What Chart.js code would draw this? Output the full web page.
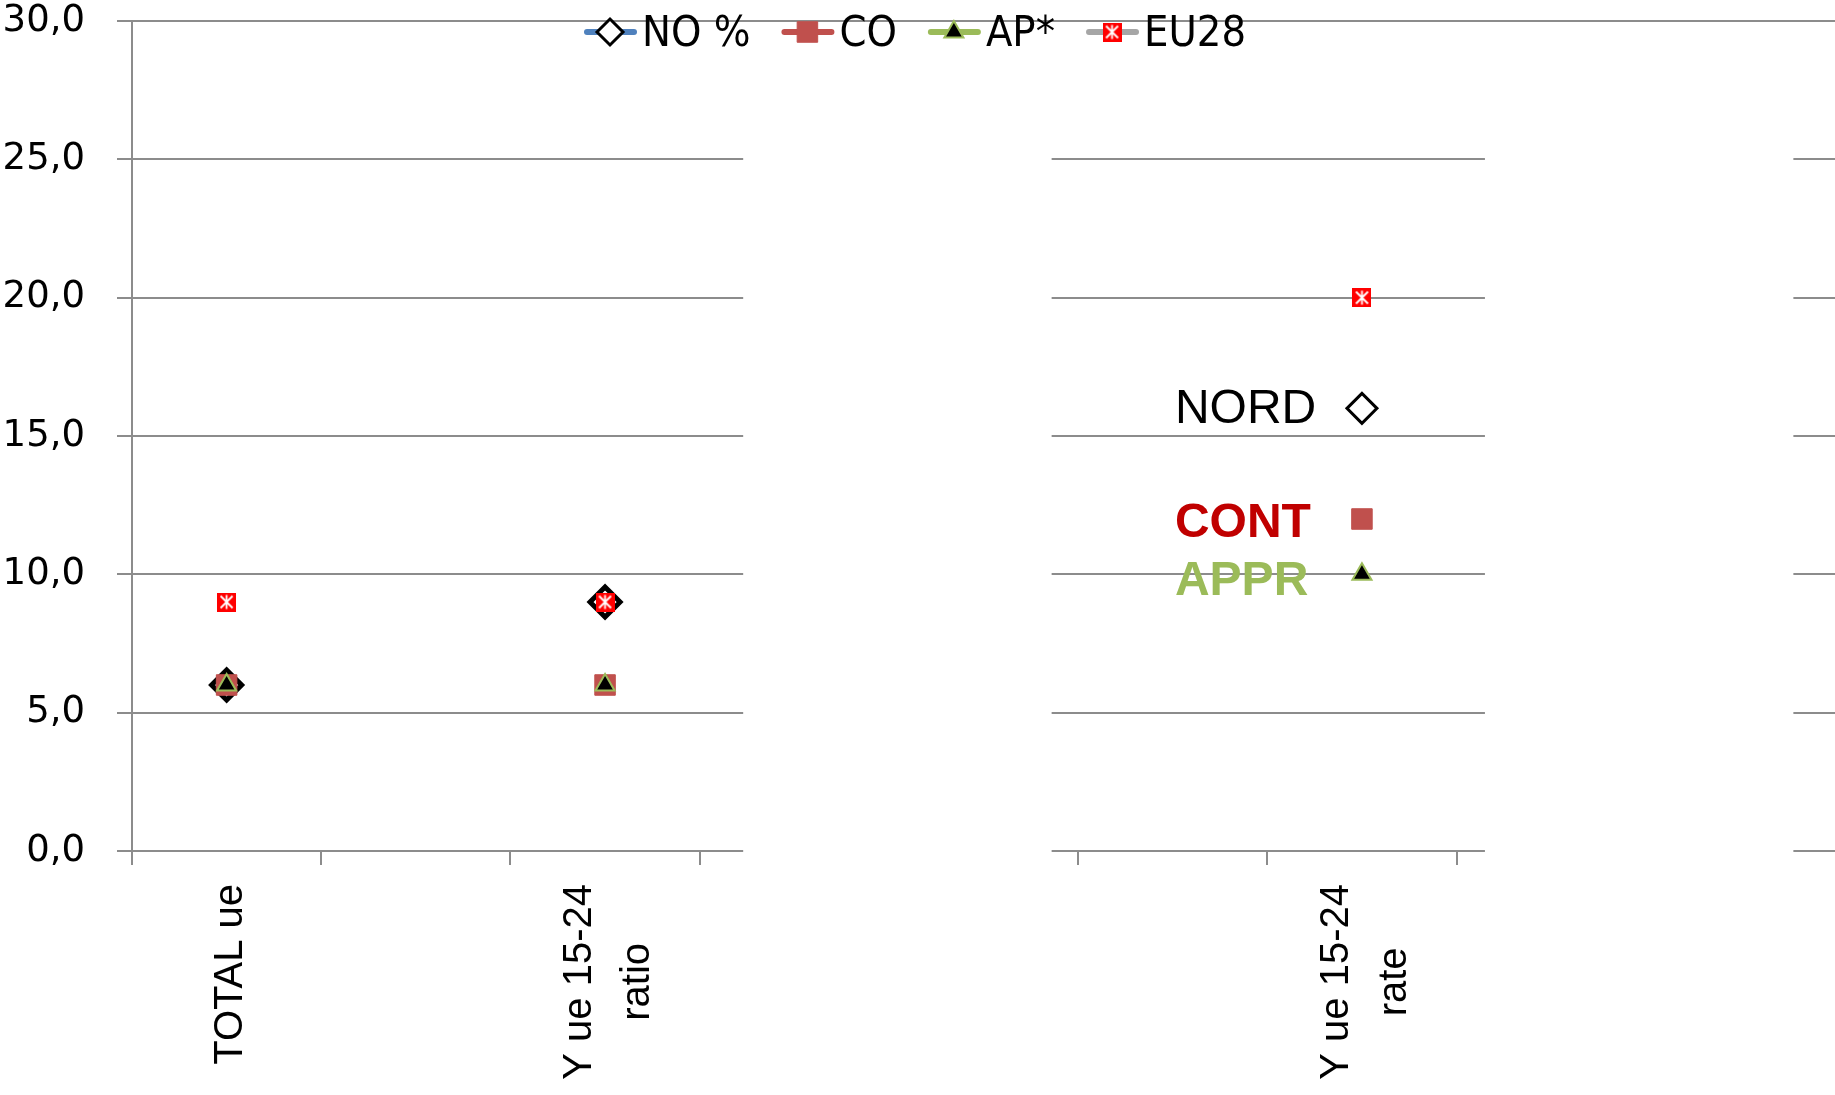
<!DOCTYPE html>
<html>
<head>
<meta charset="utf-8">
<title>NO / CO / AP* / EU28</title>
<script src="https://cdn.jsdelivr.net/npm/chart.js@4.4.1/dist/chart.umd.min.js"></script>
<style>
  html, body { margin: 0; padding: 0; background: #fff; overflow: hidden; }
  canvas { display: block; }
</style>
</head>
<body>
<canvas id="chart" width="1835" height="1095"></canvas>
<script>
// categorie (quelle vuote fanno solo da spazio tra i gruppi)
const categories = ["TOTAL ue", "", ["Y ue 15-24", "ratio"], "", "", "", ["Y ue 15-24", "rate"], "", ""];
const seriesNames = ["NO %", "CO", "AP*", "EU28"];
const noValues   = [6.0, null, 9.0, null, null, null, 16.0, null, null];
const coValues   = [6.0, null, 6.0, null, null, null, 12.0, null, null];
const apValues   = [6.0, null, 6.0, null, null, null, 10.0, null, null];
const eu28Values = [9.0, null, 9.0, null, null, null, 20.0, null, null];
const yTicks = [0, 5, 10, 15, 20, 25, 30];
const boxLabels = ["NORD", "CONT", "APPR"];

const gridColor = "#8c8c8c";
const labelFont = "40px 'Liberation Sans', Arial, sans-serif";
const legendFont = "43px 'Liberation Sans Narrow', 'Arial Narrow', 'DejaVu Sans Condensed', sans-serif";

// marker EU28: quadrato rosso con asterisco bianco
function makeEuMarker() {
  const c = document.createElement("canvas");
  c.width = 19;
  c.height = 19;
  const g = c.getContext("2d");
  g.fillStyle = "#ff0000";
  g.fillRect(0, 0, 19, 19);
  g.strokeStyle = "#ffffff";
  g.lineWidth = 1.8;
  g.beginPath();
  g.moveTo(9.5, 2.5); g.lineTo(9.5, 16.5);
  g.moveTo(3.5, 3.5); g.lineTo(15.5, 15.5);
  g.moveTo(15.5, 3.5); g.lineTo(3.5, 15.5);
  g.stroke();
  return c;
}
const euMarker = makeEuMarker();

// rettangoli bianchi che interrompono la griglia (come nell'originale)
const gapPlugin = {
  id: "gaps",
  beforeDatasetsDraw(chart) {
    const { ctx, chartArea, scales: { x } } = chart;
    ctx.save();
    ctx.fillStyle = "#fff";
    [[2.73, 4.36], [6.65, 8.28]].forEach(([a, b]) => {
      const x0 = x.getPixelForValue(a);
      const x1 = x.getPixelForValue(b);
      ctx.fillRect(x0, chartArea.top + 3, x1 - x0, chartArea.bottom - chartArea.top + 30);
    });
    ctx.restore();
  }
};

// etichette categorie ruotate, righe centrate
const catLabelPlugin = {
  id: "catLabels",
  afterDraw(chart) {
    const { ctx, chartArea, scales: { x } } = chart;
    ctx.save();
    ctx.font = labelFont;
    ctx.fillStyle = "#000";
    ctx.textAlign = "center";
    ctx.textBaseline = "middle";
    categories.forEach((lab, i) => {
      const lines = Array.isArray(lab) ? lab : [lab];
      if (!lines[0]) return;
      const w = Math.max(...lines.map(l => ctx.measureText(l).width));
      ctx.save();
      ctx.translate(x.getPixelForValue(i) + 4, chartArea.bottom + 33);
      ctx.rotate(-Math.PI / 2);
      lines.forEach((l, k) => ctx.fillText(l, -w / 2, (k - (lines.length - 1) / 2) * 58));
      ctx.restore();
    });
    ctx.restore();
  }
};

// testi NORD / CONT / APPR accanto ai punti "rate"
const boxColors = ["#000000", "#C00000", "#9BBB59"];
const boxDy = [1, 5, 7];
const boxPlugin = {
  id: "boxLabels",
  afterDatasetsDraw(chart) {
    const ctx = chart.ctx;
    const rateIdx = categories.findIndex(c => Array.isArray(c) && c[1] === "rate");
    ctx.save();
    ctx.textAlign = "left";
    ctx.textBaseline = "middle";
    boxLabels.forEach((t, i) => {
      const pt = chart.getDatasetMeta(i).data[rateIdx];
      if (!pt) return;
      ctx.font = (i === 0 ? "" : "bold ") + "48px 'Liberation Sans', Arial, sans-serif";
      ctx.fillStyle = boxColors[i];
      ctx.fillText(t, pt.x - 187, pt.y + boxDy[i]);
    });
    ctx.restore();
  }
};

// legenda stile Excel (linea + marker) sopra l'area del grafico
const legendPlugin = {
  id: "xlsLegend",
  afterDraw(chart) {
    const ctx = chart.ctx;
    const y = chart.chartArea.top + 11;
    let x = 584;
    ctx.save();
    ctx.font = legendFont;
    ctx.textBaseline = "middle";
    chart.data.datasets.forEach((ds, i) => {
      ctx.strokeStyle = ds.borderColor;
      ctx.lineWidth = 6;
      ctx.lineCap = "round";
      ctx.beginPath();
      ctx.moveTo(x + 3, y);
      ctx.lineTo(x + 50, y);
      ctx.stroke();
      ctx.lineCap = "butt";
      const bw = i === 0 ? 3 : (ds.pointBorderWidth || 0);
      ctx.fillStyle = ds.pointBackgroundColor || "#000";
      ctx.strokeStyle = ds.pointBorderColor || ds.borderColor;
      ctx.lineWidth = bw;
      if (Chart.helpers && Chart.helpers.drawPoint) {
        Chart.helpers.drawPoint(ctx, {
          pointStyle: ds.pointStyle,
          radius: i === 0 ? 13 : ds.pointRadius,
          rotation: 0,
          borderWidth: bw
        }, x + 26, y);
      }
      ctx.fillStyle = "#000";
      ctx.fillText(ds.label, x + 58, y + 3);
      x += 58 + ctx.measureText(ds.label).width + 31;
    });
    ctx.restore();
  }
};

new Chart(document.getElementById("chart"), {
  type: "line",
  data: {
    labels: categories,
    datasets: [
      {
        label: seriesNames[0],
        data: noValues,
        borderColor: "#4F81BD",
        showLine: false,
        pointStyle: "rectRot",
        pointRadius: 15,
        pointBackgroundColor: "#ffffff",
        pointBorderColor: "#000000",
        pointBorderWidth: [5, 0, 5, 0, 0, 0, 3, 0, 0],
        order: 4
      },
      {
        label: seriesNames[1],
        data: coValues,
        borderColor: "#C0504D",
        showLine: false,
        pointStyle: "rect",
        pointRadius: 14.5,
        pointBackgroundColor: "#C0504D",
        pointBorderColor: "#C0504D",
        pointBorderWidth: 1,
        order: 3
      },
      {
        label: seriesNames[2],
        data: apValues,
        borderColor: "#9BBB59",
        showLine: false,
        pointStyle: "triangle",
        pointRadius: 11,
        pointBackgroundColor: "#000000",
        pointBorderColor: "#9BBB59",
        pointBorderWidth: 2,
        order: 2
      },
      {
        label: seriesNames[3],
        data: eu28Values,
        borderColor: "#A6A6A6",
        showLine: false,
        pointStyle: euMarker,
        pointRadius: 10,
        order: 1
      }
    ]
  },
  options: {
    responsive: false,
    animation: false,
    events: [],
    layout: { autoPadding: false, padding: { top: 21, right: 0, bottom: 0, left: 0 } },
    plugins: {
      legend: { display: false },
      tooltip: { enabled: false }
    },
    scales: {
      x: {
        offset: true,
        grid: {
          offset: true,
          drawOnChartArea: false,
          drawTicks: true,
          tickLength: 14,
          color: gridColor,
          // niente tacca sul bordo destro
          tickColor: c => (c.type === "tick" ? gridColor : "rgba(0,0,0,0)"),
          lineWidth: 2
        },
        border: { display: true, color: gridColor, width: 2 },
        ticks: { display: false },
        afterFit(s) {
          s.height = 244;
          s.paddingLeft = 0;
          s.paddingRight = 0;
        }
      },
      y: {
        min: yTicks[0],
        max: yTicks[yTicks.length - 1],
        ticks: {
          stepSize: yTicks[1] - yTicks[0],
          padding: 32,
          color: "#000",
          font: { family: "'DejaVu Sans', sans-serif", size: 37, lineHeight: 1.0 },
          callback: v => v.toFixed(1).replace(".", ",")
        },
        grid: { color: gridColor, lineWidth: 2, tickLength: 15 },
        border: { color: gridColor, width: 2 },
        afterFit(s) {
          s.width = 132;
          s.paddingTop = 0;
          s.paddingBottom = 0;
        }
      }
    }
  },
  plugins: [gapPlugin, boxPlugin, catLabelPlugin, legendPlugin]
});
</script>
</body>
</html>
